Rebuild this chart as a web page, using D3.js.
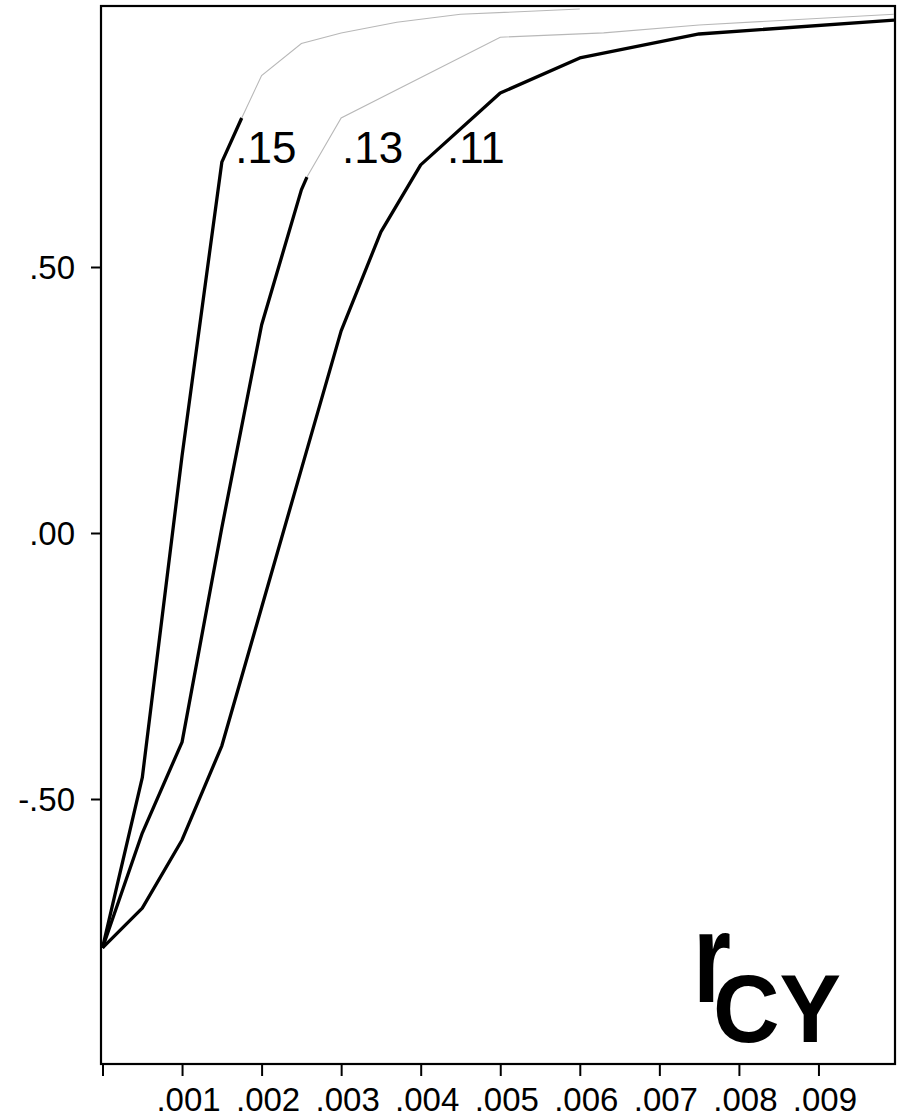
<!DOCTYPE html>
<html>
<head>
<meta charset="utf-8">
<script src="https://cdn.jsdelivr.net/npm/d3@7"></script>
<style>
    body { margin: 0; background: #fff; }
    text { font-family: "Liberation Sans", Arial, sans-serif; fill: #000; }
</style>
</head>
<body>
<svg id="chart" width="901" height="1119"></svg>
<script>
// curve .15 (solid part, then the faint continuation)
var c15X = [0, 0.0005, 0.001, 0.0015, 0.00175];
var c15Y = [-0.78, -0.46, 0.145, 0.697, 0.78];
var c15FadeX = [0.00175, 0.002, 0.0025, 0.003, 0.0037, 0.0045, 0.006];
var c15FadeY = [0.78, 0.86, 0.92, 0.94, 0.96, 0.975, 0.985];

// curve .13
var c13X = [0, 0.0005, 0.001, 0.0015, 0.002, 0.0025, 0.00257];
var c13Y = [-0.78, -0.564, -0.393, 0.01, 0.391, 0.645, 0.669];
var c13FadeX = [0.00257, 0.003, 0.005, 0.0063, 0.0075, 0.00995];
var c13FadeY = [0.669, 0.78, 0.932, 0.94, 0.955, 0.975];

// curve .11
var c11X = [0, 0.0005, 0.001, 0.0015, 0.002, 0.0025, 0.003, 0.0035, 0.004, 0.005, 0.006, 0.007, 0.0075, 0.00995];
var c11Y = [-0.78, -0.705, -0.577, -0.40, -0.14, 0.12, 0.38, 0.566, 0.692, 0.827, 0.893, 0.923, 0.938, 0.964];

var curveLabels = [".15", ".13", ".11"];
var labelX = [0.00167, 0.00301, 0.00433];
var labelY = [0.695, 0.695, 0.695];

var xTicks = [0.001, 0.002, 0.003, 0.004, 0.005, 0.006, 0.007, 0.008, 0.009];
var xTickLabels = [".001", ".002", ".003", ".004", ".005", ".006", ".007", ".008", ".009"];
var yTicks = [0.5, 0, -0.5];
var yTickLabels = [".50", ".00", "-.50"];

var svg = d3.select("#chart");

var x = d3.scaleLinear().domain([0, 0.01]).range([102.5, 898]);
var y = d3.scaleLinear().domain([-1, 1]).range([1065, 1]);

var box = { left: 101, right: 895, top: 6, bottom: 1064 };

// frame
svg.append("rect")
    .attr("x", box.left)
    .attr("y", box.top)
    .attr("width", box.right - box.left)
    .attr("height", box.bottom - box.top)
    .attr("fill", "none")
    .attr("stroke", "#000")
    .attr("stroke-width", 2.2);

// x axis ticks and labels
var xAxis = d3.axisBottom(x)
    .tickValues([0].concat(xTicks))
    .tickSize(12)
    .tickFormat((d, i) => (i === 0 ? "" : xTickLabels[i - 1]));

var gx = svg.append("g")
    .attr("transform", "translate(0," + box.bottom + ")")
    .call(xAxis);
gx.select(".domain").remove();
gx.selectAll(".tick line").attr("stroke", "#000").attr("stroke-width", 2);
gx.selectAll(".tick text")
    .attr("font-size", 33)
    .attr("font-family", "'Liberation Sans', Arial, sans-serif")
    .attr("dx", 6)
    .attr("y", 47)
    .attr("dy", 0);

// y axis ticks and labels
var yAxis = d3.axisLeft(y)
    .tickValues(yTicks)
    .tickSize(10)
    .tickFormat((d, i) => yTickLabels[i]);

var gy = svg.append("g")
    .attr("transform", "translate(" + box.left + ",0)")
    .call(yAxis);
gy.select(".domain").remove();
gy.selectAll(".tick line").attr("stroke", "#000").attr("stroke-width", 2);
gy.selectAll(".tick text")
    .attr("font-size", 33)
    .attr("font-family", "'Liberation Sans', Arial, sans-serif")
    .attr("x", -26)
    .attr("dy", "0.36em");

var line = d3.line()
    .x(d => x(d[0]))
    .y(d => y(d[1]));

function pairs(xs, ys) {
    return xs.map((v, i) => [v, ys[i]]);
}

// faint continuations
[[c15FadeX, c15FadeY], [c13FadeX, c13FadeY]].forEach(s => {
    svg.append("path")
        .datum(pairs(s[0], s[1]))
        .attr("d", line)
        .attr("fill", "none")
        .attr("stroke", "#b8b8b8")
        .attr("stroke-width", 1.1);
});

// solid curves
[[c15X, c15Y], [c13X, c13Y], [c11X, c11Y]].forEach(s => {
    svg.append("path")
        .datum(pairs(s[0], s[1]))
        .attr("d", line)
        .attr("fill", "none")
        .attr("stroke", "#000")
        .attr("stroke-width", 3.3)
        .attr("stroke-linejoin", "round");
});

// curve labels
svg.selectAll(".curve-label")
    .data(curveLabels)
    .enter()
    .append("text")
    .attr("class", "curve-label")
    .attr("x", (d, i) => x(labelX[i]))
    .attr("y", (d, i) => y(labelY[i]))
    .attr("font-size", 44)
    .text(d => d);

// r_CY, r is narrow and tall, CY set lower as subscript
svg.append("text")
    .attr("x", 693)
    .attr("y", 1002)
    .attr("font-size", 128)
    .attr("font-weight", "bold")
    .attr("textLength", 38)
    .attr("lengthAdjust", "spacingAndGlyphs")
    .text("r");
svg.append("text")
    .attr("x", 713)
    .attr("y", 1042)
    .attr("font-size", 97)
    .attr("font-weight", "bold")
    .attr("textLength", 128)
    .attr("lengthAdjust", "spacingAndGlyphs")
    .text("CY");
</script>
</body>
</html>
